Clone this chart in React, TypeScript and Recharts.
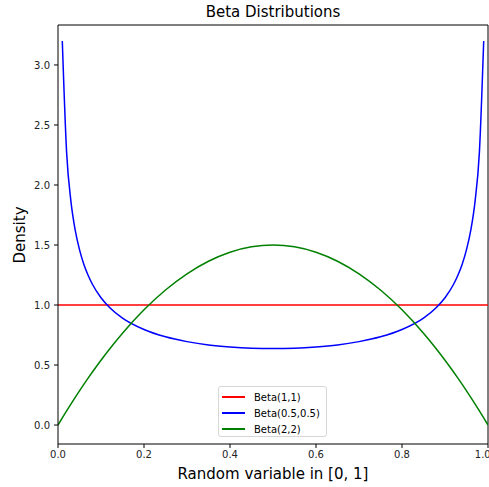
import React from "react";
import { LineChart, Line, XAxis, YAxis, ReferenceLine } from "recharts";

const xValues = [
  0, 0.01, 0.02, 0.03, 0.04, 0.05, 0.06, 0.07, 0.08, 0.1, 0.12, 0.15, 0.2, 0.25, 0.3, 0.35, 0.4, 0.45, 0.5,
  0.55, 0.6, 0.65, 0.7, 0.75, 0.8, 0.85, 0.88, 0.9, 0.92, 0.93, 0.94, 0.95, 0.96, 0.97, 0.98, 0.99, 1.0,
];
const beta11 = [
  1, 1, 1, 1, 1, 1, 1, 1, 1, 1, 1, 1, 1, 1, 1, 1, 1, 1, 1,
  1, 1, 1, 1, 1, 1, 1, 1, 1, 1, 1, 1, 1, 1, 1, 1, 1, 1,
];
const beta0505: (number | null)[] = [
  null, 3.199, 2.274, 1.866, 1.624, 1.461, 1.34, 1.248, 1.173, 1.061, 0.98, 0.891, 0.796, 0.735, 0.695, 0.667, 0.65, 0.64, 0.637,
  0.64, 0.65, 0.667, 0.695, 0.735, 0.796, 0.891, 0.98, 1.061, 1.173, 1.248, 1.34, 1.461, 1.624, 1.866, 2.274, 3.199, null,
];
const beta22 = [
  0, 0.0594, 0.1176, 0.1746, 0.2304, 0.285, 0.3384, 0.3906, 0.4416, 0.54, 0.6336, 0.765, 0.96, 1.125, 1.26, 1.365, 1.44, 1.485, 1.5,
  1.485, 1.44, 1.365, 1.26, 1.125, 0.96, 0.765, 0.6336, 0.54, 0.4416, 0.3906, 0.3384, 0.285, 0.2304, 0.1746, 0.1176, 0.0594, 0,
];
const xTicks = [0, 0.2, 0.4, 0.6, 0.8, 1.0];
const yTicks = [0, 0.5, 1.0, 1.5, 2.0, 2.5, 3.0];
const xDomain = [0, 1];
const yDomain = [-0.158, 3.333];

const series = [
  { key: "b11", name: "Beta(1,1)", color: "#ff0000" },
  { key: "b0505", name: "Beta(0.5,0.5)", color: "#0000ff" },
  { key: "b22", name: "Beta(2,2)", color: "#008000" },
];

const data = xValues.map((x, i) => ({
  x,
  b11: beta11[i],
  b0505: beta0505[i],
  b22: beta22[i],
}));

const FONT = "'DejaVu Sans', sans-serif";
const W = 489;
const H = 487;
const M = { top: 25, right: 1, bottom: 0, left: 0 };
const YW = 58;
const XH = 43;

export default function App() {
  const plotLeft = M.left + YW;
  const plotWidth = W - plotLeft - M.right;
  const plotTop = M.top;
  const plotHeight = H - M.top - M.bottom - XH;
  const tickStyle = { fontSize: 10, fill: "#222", fontFamily: FONT };
  return (
    <div style={{ position: "absolute", left: 0, top: 0, width: W, height: H, fontFamily: FONT, background: "#fff" }}>
      <LineChart width={W} height={H} data={data} margin={M}>
        <XAxis
          dataKey="x"
          type="number"
          domain={xDomain}
          ticks={xTicks}
          tickFormatter={(v: number) => v.toFixed(1)}
          height={XH}
          tickSize={4}
          tickMargin={3}
          stroke="#000"
          tick={tickStyle}
          axisLine={{ stroke: "#000", strokeWidth: 1 }}
          tickLine={{ stroke: "#000" }}
          allowDataOverflow
        />
        <YAxis
          type="number"
          domain={yDomain}
          ticks={yTicks}
          tickFormatter={(v: number) => v.toFixed(1)}
          width={YW}
          tickSize={4}
          tickMargin={4}
          stroke="#000"
          tick={tickStyle}
          axisLine={{ stroke: "#000", strokeWidth: 1 }}
          tickLine={{ stroke: "#000" }}
          allowDataOverflow
        />
        <ReferenceLine y={yDomain[1]} stroke="#000" strokeWidth={1} ifOverflow="visible" />
        <ReferenceLine x={xDomain[1]} stroke="#000" strokeWidth={1} ifOverflow="visible" />
        {series.map((s) => (
          <Line
            key={s.key}
            dataKey={s.key}
            name={s.name}
            type="monotone"
            stroke={s.color}
            strokeWidth={1.5}
            dot={false}
            activeDot={false}
            isAnimationActive={false}
            connectNulls={false}
          />
        ))}
      </LineChart>
      <div
        style={{
          position: "absolute",
          left: plotLeft,
          width: plotWidth,
          top: 3,
          textAlign: "center",
          fontSize: 15,
          color: "#000",
        }}
      >
        Beta Distributions
      </div>
      <div
        style={{
          position: "absolute",
          left: plotLeft,
          width: plotWidth,
          top: 465,
          textAlign: "center",
          fontSize: 15,
          color: "#000",
        }}
      >
        Random variable in [0, 1]
      </div>
      <div
        style={{
          position: "absolute",
          left: 20,
          top: plotTop + plotHeight / 2,
          transform: "translate(-50%, -50%) rotate(-90deg)",
          fontSize: 15,
          color: "#000",
          whiteSpace: "nowrap",
        }}
      >
        Density
      </div>
      <div
        style={{
          position: "absolute",
          left: 218,
          top: 386,
          width: 109,
          height: 51,
          boxSizing: "border-box",
          border: "1px solid #d6d6d6",
          borderRadius: 3,
          background: "rgba(255,255,255,0.8)",
          padding: "2px 0 0 3px",
        }}
      >
        {series.map((s) => (
          <div key={s.key} style={{ display: "flex", alignItems: "center", height: 16, fontSize: 10, color: "#000" }}>
            <div style={{ width: 23, height: 2, background: s.color, marginRight: 9, flexShrink: 0 }} />
            <span>{s.name}</span>
          </div>
        ))}
      </div>
    </div>
  );
}
